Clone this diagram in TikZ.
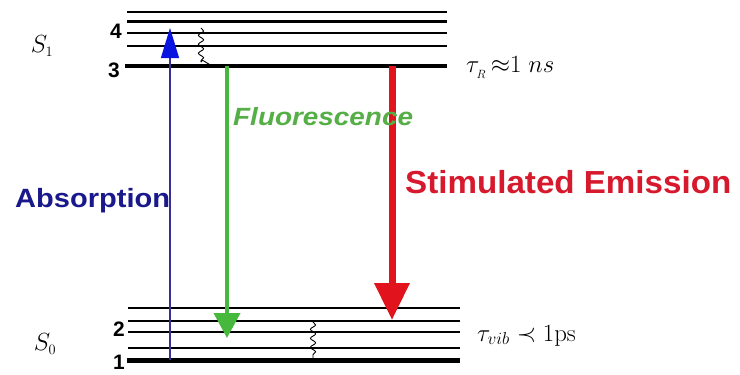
\documentclass[tikz,border=0pt]{standalone}
\usepackage[no-math]{fontspec}
\newfontfamily\arial{Liberation Sans}
\usetikzlibrary{arrows.meta,decorations.pathmorphing}
\definecolor{absblue}{RGB}{25,25,140}
\definecolor{absline}{RGB}{55,45,150}
\definecolor{abshead}{RGB}{10,20,225}
\definecolor{fluogreen}{RGB}{70,185,60}
\definecolor{fluotext}{RGB}{85,175,70}
\definecolor{stimred}{RGB}{225,20,30}
\definecolor{stimtext}{RGB}{215,25,45}
\tikzset{
  thinlevel/.style={line width=1.3bp, black},
  thicklevel/.style={line width=#1, black},
  wavy/.style={line width=0.9bp, black, decorate,
    decoration={snake, amplitude=2.6bp, segment length=9bp}},
  numlabel/.style={font=\arial\bfseries\fontsize{21}{24}\selectfont, inner sep=0pt},
  statelabel/.style={font=\fontsize{28}{30}\selectfont, inner sep=0pt},
  taulabel/.style={font=\fontsize{23}{28}\selectfont, inner sep=0pt, anchor=base west},
  biglabel/.style={inner sep=0pt, anchor=base west}
}
\begin{document}
\begin{tikzpicture}[x=1bp,y=-1bp]
\useasboundingbox (0,0) rectangle (740,374);
\fill[white] (0,0) rectangle (740,374);

% ---- S1 levels
\coordinate (a1) at (127,12);  \coordinate (b1) at (447,12);
\coordinate (a2) at (127,21);  \coordinate (b2) at (447,21);
\coordinate (a3) at (127,33);  \coordinate (b3) at (447,33);
\coordinate (a4) at (127,46);  \coordinate (b4) at (447,46);
\coordinate (a5) at (125,66);  \coordinate (b5) at (447,66);
\draw[thinlevel] (a1) -- (b1);
\draw[thicklevel=3bp] (a2) -- (b2);
\draw[thinlevel] (a3) -- (b3);
\draw[thinlevel] (a4) -- (b4);
\draw[thicklevel=4.5bp] (a5) -- (b5);

% ---- S0 levels
\coordinate (c1) at (128,308); \coordinate (d1) at (460,308);
\coordinate (c2) at (128,321); \coordinate (d2) at (460,321);
\coordinate (c3) at (128,332); \coordinate (d3) at (460,332);
\coordinate (c4) at (128,348); \coordinate (d4) at (460,348);
\coordinate (c5) at (127,360); \coordinate (d5) at (460,360);
\draw[thinlevel] (c1) -- (d1);
\draw[thinlevel] (c2) -- (d2);
\draw[thinlevel] (c3) -- (d3);
\draw[thinlevel] (c4) -- (d4);
\draw[thicklevel=5bp] (c5) -- (d5);

% ---- relaxation (wavy)
\coordinate (w1s) at (201,28); \coordinate (w1e) at (201,62); \coordinate (w1t) at (214,66);
\draw[wavy] (w1s) -- (w1e);
\draw[line width=0.9bp] (w1e) to[out=90,in=180] (w1t);
\coordinate (w2s) at (313,322); \coordinate (w2e) at (313,359);
\draw[wavy] (w2s) -- (w2e);

% ---- arrows
\coordinate (absS) at (170,360); \coordinate (absE) at (170,28);
\draw[absline, line width=1.3bp,
  -{Triangle[length=30bp,width=18bp,color=abshead]}] (absS) -- (absE);
\coordinate (flS) at (227,66); \coordinate (flE) at (227,338);
\draw[fluogreen, line width=4bp,
  -{Triangle[length=25bp,width=26bp]}] (flS) -- (flE);
\coordinate (stS) at (392,66); \coordinate (stE) at (392,320);
\draw[stimred, line width=7bp,
  -{Triangle[length=37bp,width=34bp]}] (stS) -- (stE);

% ---- labels
\node[statelabel] (s1) at (42,46) {$S_{\scriptscriptstyle 1}$};
\node[statelabel] (s0) at (45,344) {$S_{\scriptscriptstyle 0}$};
\node[numlabel] (n4) at (116,31) {4};
\node[numlabel] (n3) at (114,70) {3};
\node[numlabel] (n2) at (119,329) {2};
\node[numlabel] (n1) at (119,362) {1};

\node[taulabel] (tauR) at (466,72) {$\tau_{_R}\,{\approx}1\;ns$};
\node[taulabel] (tauV) at (477,341) {$\tau_{vib}\prec 1\mathrm{ps}$};

\node[biglabel, text=absblue, font=\arial\bfseries\fontsize{26.5}{30}\selectfont]
  (abs) at (15,207) {\scalebox{1.1}[1]{Absorption}};
\node[biglabel, text=fluotext, font=\arial\bfseries\itshape\fontsize{25}{30}\selectfont]
  (fluo) at (233,125) {\scalebox{1.12}[1]{Fluorescence}};
\node[biglabel, text=stimtext, font=\arial\bfseries\fontsize{32}{36}\selectfont]
  (stim) at (405,193) {\scalebox{1.04}[1]{Stimulated Emission}};
\end{tikzpicture}
\end{document}
